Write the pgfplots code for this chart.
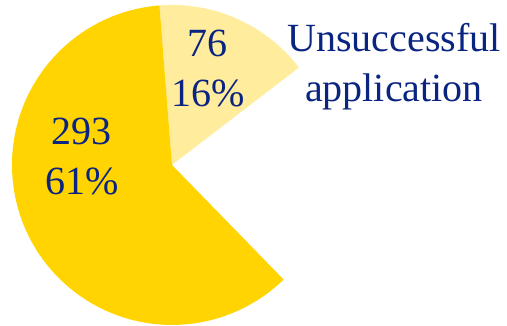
\documentclass[border=0pt]{standalone}
\usepackage{fontspec}
\setmainfont{Liberation Serif}
\usepackage{pgfplots}
\usepackage{pgfplotstable}
\pgfplotsset{compat=1.18}
\definecolor{gold}{RGB}{255,212,0}
\definecolor{lightgold}{RGB}{255,236,156}
\definecolor{navy}{RGB}{10,36,130}
\pgfplotstableread{
label value pct
Successful 293 61
Unsuccessful 76 16
Other 111 23
}\piedata
\pgfplotstablegetelem{0}{value}\of\piedata \let\va\pgfplotsretval
\pgfplotstablegetelem{1}{value}\of\piedata \let\vb\pgfplotsretval
\pgfplotstablegetelem{2}{value}\of\piedata \let\vc\pgfplotsretval
\pgfmathsetmacro{\tot}{\va+\vb+\vc}
\pgfmathsetmacro{\aStart}{37.5}
\pgfmathsetmacro{\aMid}{\aStart+360*(\vb/\tot)}
\pgfmathsetmacro{\aEnd}{\aMid+360*(\va/\tot)}
\tikzset{lbl/.style={font=\fontsize{40}{50}\selectfont, text=navy, align=center, inner sep=0pt}}
\begin{document}
\begin{tikzpicture}
\begin{axis}[
  x=160pt, y=160pt,
  xmin=-1.075, xmax=2.094, ymin=-1.006, ymax=1.031,
  hide axis, clip=false,
]
\addplot[draw=none] coordinates {(-1.075,-1.006) (2.094,1.031)};
\fill[lightgold] (axis cs:0,0) -- ++(\aStart:160pt) arc[start angle=\aStart, end angle=\aMid, radius=160pt] -- cycle;
\fill[gold] (axis cs:0,0) -- ++(\aMid:160pt) arc[start angle=\aMid, end angle=\aEnd, radius=160pt] -- cycle;
\node[lbl] at (axis cs:-0.5625,0.05) {293\\61\%};
\node[lbl] at (axis cs:0.225,0.6) {76\\16\%};
\node[lbl] at (axis cs:1.3875,0.615) {Unsuccessful\\application};
\coordinate (bl) at (axis cs:-1.075,-1.006);
\coordinate (tr) at (axis cs:2.094,1.031);
\end{axis}
\pgfresetboundingbox
\path (bl) rectangle (tr);
\end{tikzpicture}
\end{document}
